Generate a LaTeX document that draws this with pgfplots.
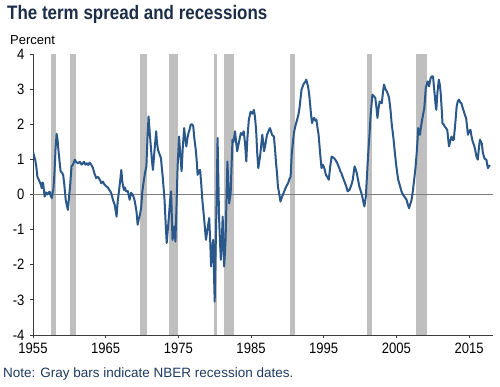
\documentclass[border=0pt]{standalone}
\usepackage{pgfplots}
\pgfplotsset{compat=1.18}
\usepackage{fontspec}
\setmainfont{Liberation Sans}
\newfontfamily\narrowfont{Liberation Sans}[FakeStretch=0.87]
\definecolor{lineblue}{RGB}{43,88,138}
\definecolor{recgray}{RGB}{191,191,191}
\definecolor{titlenavy}{RGB}{28,45,72}
\definecolor{notenavy}{RGB}{30,58,96}
\definecolor{zerogray}{RGB}{125,125,125}
\definecolor{axisgray}{RGB}{60,60,60}
\begin{document}
\begin{tikzpicture}[x=1pt,y=1pt]
\path[use as bounding box] (0,0) rectangle (500,386);
\node[anchor=base west, text=titlenavy, inner sep=0pt] at (7,366) {\narrowfont\fontsize{19.5}{22}\selectfont\bfseries The term spread and recessions};
\node[anchor=base west, text=black, inner sep=0pt] at (10,341) {\fontsize{13}{15}\selectfont Percent};
\node[anchor=base west, text=notenavy, inner sep=0pt] at (3,8.5) {\fontsize{13.5}{16}\selectfont Note: Gray bars indicate NBER recession dates.};
\begin{axis}[
  at={(33pt,51pt)}, anchor=south west,
  scale only axis, width=460pt, height=281pt,
  xmin=1955, xmax=2018.3, ymin=-4, ymax=4,
  axis x line*=bottom, axis y line*=left,
  axis line style={axisgray, line width=0.8pt, -},
  xtick={1955,1965,1975,1985,1995,2005,2015},
  ytick={-4,-3,-2,-1,0,1,2,3,4},
  x tick label style={/pgf/number format/1000 sep={}},
  tick align=outside, major tick length=3pt,
  tick style={axisgray, line width=0.8pt},
  ticklabel style={font=\narrowfont\fontsize{15}{17}\selectfont, text=black},
  /pgf/number format/assume math mode=true,
  xticklabel style={yshift=-1pt},
  yticklabel style={xshift=-2pt},
  clip=true,
]
\pgfplotsset{recbar/.style={fill=recgray, draw=none}}
\addplot[recbar] coordinates {(1957.43,-4) (1957.43,4) (1958.14,4) (1958.14,-4)} -- cycle;
\addplot[recbar] coordinates {(1960.14,-4) (1960.14,4) (1960.93,4) (1960.93,-4)} -- cycle;
\addplot[recbar] coordinates {(1969.77,-4) (1969.77,4) (1970.68,4) (1970.68,-4)} -- cycle;
\addplot[recbar] coordinates {(1973.68,-4) (1973.68,4) (1975.02,4) (1975.02,-4)} -- cycle;
\addplot[recbar] coordinates {(1979.85,-4) (1979.85,4) (1980.35,4) (1980.35,-4)} -- cycle;
\addplot[recbar] coordinates {(1981.35,-4) (1981.35,4) (1982.68,4) (1982.68,-4)} -- cycle;
\addplot[recbar] coordinates {(1990.35,-4) (1990.35,4) (1991.02,4) (1991.02,-4)} -- cycle;
\addplot[recbar] coordinates {(2001.02,-4) (2001.02,4) (2001.68,4) (2001.68,-4)} -- cycle;
\addplot[recbar] coordinates {(2007.77,-4) (2007.77,4) (2009.27,4) (2009.27,-4)} -- cycle;
\addplot[zerogray, line width=1pt] coordinates {(1955,0) (2018.3,0)};
\addplot[lineblue, line width=2pt, line join=round] coordinates {
(1955.0,1.22) (1955.15,1.10) (1955.3,0.99) (1955.45,0.80) (1955.6,0.51) (1955.75,0.44) (1955.9,0.37)
(1956.05,0.30) (1956.2,0.18) (1956.3,0.34) (1956.4,0.32) (1956.5,0.12) (1956.6,-0.06) (1956.8,0.06)
(1956.95,0.00) (1957.1,0.04) (1957.3,0.08) (1957.45,-0.05) (1957.6,-0.10) (1957.7,0.05) (1957.8,0.13)
(1957.95,0.60) (1958.1,1.30) (1958.25,1.73) (1958.38,1.55) (1958.5,1.27) (1958.65,0.95) (1958.8,0.66)
(1959.0,0.62) (1959.15,0.56) (1959.3,0.30) (1959.5,-0.15) (1959.65,-0.30) (1959.8,-0.44) (1959.95,-0.10)
(1960.1,0.23) (1960.3,0.80) (1960.5,0.85) (1960.75,0.99) (1960.95,0.92) (1961.2,0.89) (1961.45,0.93)
(1961.7,0.85) (1962.0,0.93) (1962.2,0.85) (1962.35,0.89) (1962.6,0.84) (1962.8,0.91) (1963.0,0.85)
(1963.25,0.76) (1963.45,0.60) (1963.7,0.47) (1963.95,0.50) (1964.2,0.42) (1964.4,0.32) (1964.6,0.37)
(1964.85,0.28) (1965.1,0.23) (1965.3,0.20) (1965.5,0.13) (1965.75,0.05) (1966.0,-0.15) (1966.25,-0.30)
(1966.5,-0.63) (1966.65,-0.20) (1966.8,0.04) (1967.0,0.40) (1967.15,0.70) (1967.3,0.35) (1967.5,0.13)
(1967.65,0.20) (1967.8,0.09) (1968.05,0.10) (1968.3,-0.15) (1968.5,0.05) (1968.7,0.00) (1968.9,-0.10)
(1969.05,-0.24) (1969.25,-0.50) (1969.4,-0.86) (1969.55,-0.70) (1969.75,-0.55) (1969.9,-0.34) (1970.05,0.10)
(1970.2,0.32) (1970.4,0.60) (1970.6,0.80) (1970.75,1.60) (1970.9,2.22) (1971.05,1.80) (1971.25,1.27)
(1971.4,0.90) (1971.5,0.70) (1971.7,1.20) (1971.95,1.80) (1972.05,1.50) (1972.2,1.27) (1972.4,1.15)
(1972.6,1.04) (1972.85,0.50) (1973.1,-0.15) (1973.25,-0.80) (1973.4,-1.38) (1973.55,-1.00) (1973.7,-0.63)
(1973.85,-0.20) (1974.0,0.09) (1974.1,-0.60) (1974.2,-1.29) (1974.35,-1.05) (1974.45,-0.91) (1974.6,-1.34)
(1974.75,-0.30) (1974.9,0.80) (1975.1,1.65) (1975.25,1.20) (1975.45,0.66) (1975.6,1.30) (1975.8,1.89)
(1975.95,1.60) (1976.1,1.37) (1976.25,1.60) (1976.4,1.75) (1976.55,1.85) (1976.7,1.99) (1976.9,2.00)
(1977.05,1.94) (1977.2,1.60) (1977.4,1.27) (1977.55,0.90) (1977.65,0.56) (1977.85,0.68) (1978.0,0.70)
(1978.15,0.30) (1978.3,-0.15) (1978.55,-0.70) (1978.8,-1.29) (1979.0,-1.00) (1979.25,-0.67) (1979.4,-1.40)
(1979.5,-2.05) (1979.65,-1.60) (1979.8,-1.29) (1979.9,-2.20) (1980.0,-3.05) (1980.12,-1.70) (1980.25,-0.34)
(1980.4,1.61) (1980.5,0.50) (1980.6,-0.63) (1980.72,-1.30) (1980.85,-1.86) (1981.0,-1.20) (1981.1,-0.63)
(1981.2,-1.40) (1981.3,-2.05) (1981.4,-1.70) (1981.5,-1.29) (1981.62,-0.20) (1981.75,0.94) (1981.88,0.30)
(1982.0,-0.25) (1982.1,-0.10) (1982.2,0.04) (1982.32,0.80) (1982.45,1.56) (1982.6,1.50) (1982.8,1.80)
(1982.95,1.50) (1983.1,1.23) (1983.35,1.50) (1983.6,1.75) (1983.8,1.70) (1984.0,1.80) (1984.2,1.40)
(1984.35,0.94) (1984.5,1.60) (1984.7,2.13) (1984.95,2.36) (1985.2,2.30) (1985.4,2.41) (1985.55,2.20)
(1985.7,1.84) (1985.85,1.20) (1986.0,0.75) (1986.15,0.95) (1986.3,1.18) (1986.45,1.50) (1986.55,1.70)
(1986.7,1.45) (1986.8,1.23) (1987.0,1.45) (1987.2,1.70) (1987.4,1.80) (1987.6,1.89) (1987.75,1.80)
(1987.9,1.70) (1988.15,1.65) (1988.3,1.30) (1988.45,0.89) (1988.6,0.55) (1988.7,0.23) (1988.9,0.00)
(1989.05,-0.20) (1989.2,-0.10) (1989.4,0.00) (1989.55,0.08) (1989.75,0.18) (1989.9,0.25) (1990.1,0.32)
(1990.3,0.45) (1990.45,0.51) (1990.6,1.13) (1990.75,1.45) (1990.9,1.75) (1991.1,1.95) (1991.35,2.13)
(1991.55,2.30) (1991.7,2.51) (1991.85,2.80) (1991.95,2.98) (1992.15,3.10) (1992.3,3.17) (1992.45,3.20)
(1992.6,3.27) (1992.75,3.15) (1992.85,3.08) (1993.0,2.85) (1993.1,2.65) (1993.25,2.30) (1993.4,2.03)
(1993.55,2.15) (1993.7,2.18) (1993.85,2.10) (1994.0,2.13) (1994.15,1.90) (1994.3,1.70) (1994.5,1.20)
(1994.7,0.75) (1994.85,0.85) (1995.0,0.80) (1995.15,0.70) (1995.3,0.56) (1995.5,0.50) (1995.7,0.42)
(1995.9,0.80) (1996.1,1.08) (1996.35,1.05) (1996.6,0.99) (1996.8,0.92) (1996.95,0.85) (1997.15,0.75)
(1997.3,0.66) (1997.45,0.60) (1997.6,0.51) (1997.8,0.40) (1997.95,0.32) (1998.15,0.20) (1998.3,0.09)
(1998.5,0.12) (1998.65,0.18) (1998.85,0.30) (1999.0,0.42) (1999.15,0.65) (1999.25,0.80) (1999.4,0.72)
(1999.55,0.61) (1999.75,0.40) (1999.9,0.23) (2000.1,0.10) (2000.25,0.00) (2000.45,-0.20) (2000.6,-0.34)
(2000.7,-0.20) (2000.8,-0.06) (2000.95,0.50) (2001.1,1.08) (2001.3,1.70) (2001.45,2.22) (2001.6,2.60)
(2001.7,2.84) (2001.9,2.80) (2002.1,2.75) (2002.25,2.50) (2002.4,2.18) (2002.55,2.45) (2002.7,2.65)
(2002.85,2.62) (2003.0,2.60) (2003.15,2.90) (2003.3,3.13) (2003.5,3.00) (2003.7,2.93) (2003.85,2.85)
(2004.0,2.75) (2004.2,2.40) (2004.35,2.03) (2004.6,1.60) (2004.8,1.18) (2005.0,0.80) (2005.25,0.42)
(2005.5,0.25) (2005.7,0.09) (2005.9,0.00) (2006.1,-0.06) (2006.25,-0.10) (2006.4,-0.15) (2006.6,-0.30)
(2006.75,-0.39) (2006.9,-0.28) (2007.1,-0.15) (2007.3,0.15) (2007.45,0.42) (2007.65,0.80) (2007.8,1.18)
(2007.9,1.50) (2008.0,1.89) (2008.15,1.75) (2008.25,1.70) (2008.4,1.95) (2008.55,2.13) (2008.7,2.30)
(2008.85,2.46) (2008.95,2.75) (2009.05,3.03) (2009.2,3.15) (2009.3,3.22) (2009.4,3.15) (2009.5,3.08)
(2009.7,3.30) (2009.85,3.36) (2010.05,3.36) (2010.2,3.00) (2010.3,2.79) (2010.4,2.55) (2010.5,2.41)
(2010.65,2.90) (2010.85,3.27) (2011.0,3.10) (2011.1,2.89) (2011.25,2.40) (2011.35,2.03) (2011.5,2.00)
(2011.65,1.94) (2011.8,1.90) (2012.0,1.84) (2012.15,1.55) (2012.25,1.37) (2012.45,1.55) (2012.6,1.65)
(2012.75,1.55) (2012.9,1.56) (2013.1,2.00) (2013.3,2.51) (2013.45,2.65) (2013.6,2.70) (2013.8,2.62)
(2013.95,2.60) (2014.15,2.45) (2014.3,2.36) (2014.45,2.25) (2014.6,2.18) (2014.75,1.90) (2014.85,1.70)
(2015.0,1.80) (2015.2,1.84) (2015.35,1.65) (2015.5,1.51) (2015.7,1.40) (2015.85,1.27) (2016.0,1.10)
(2016.2,0.99) (2016.35,1.30) (2016.5,1.56) (2016.6,1.52) (2016.75,1.46) (2016.9,1.20) (2017.1,1.04)
(2017.25,1.00) (2017.4,0.99) (2017.5,0.85) (2017.6,0.75) (2017.75,0.82) (2017.9,0.80)
};
\end{axis}
\end{tikzpicture}
\end{document}
